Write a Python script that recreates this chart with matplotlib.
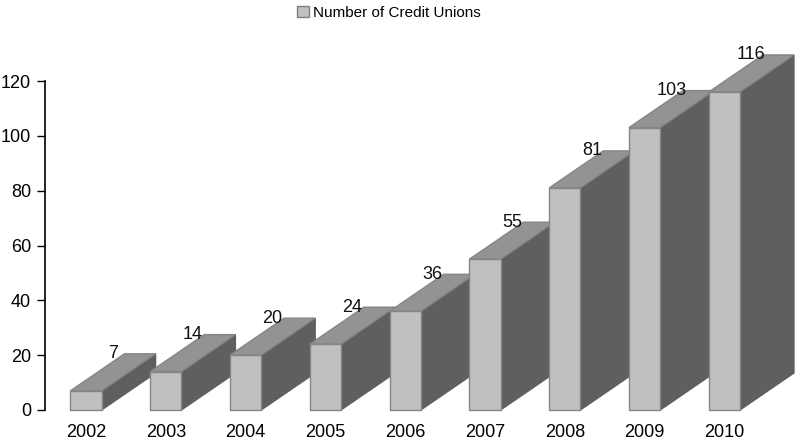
import matplotlib.pyplot as plt
from matplotlib.patches import Polygon, Patch

years = ['2002', '2003', '2004', '2005', '2006', '2007', '2008', '2009', '2010']
credit_unions = [7, 14, 20, 24, 36, 55, 81, 103, 116]

plt.rcParams['font.family'] = ['Liberation Sans', 'DejaVu Sans']

fig = plt.figure(figsize=(7.95, 4.41), dpi=100)
# axes placed in pixel terms: y axis at x=45, zero line at y=410, 120 at y=81
ax = fig.add_axes([45 / 795, 31 / 441, 750 / 795, 329 / 441])

w = 0.39       # bar width (in category units)
dx = 0.677     # depth offset to the right
dy = 13.5      # depth offset upward (data units)
front_c, top_c, side_c, edge_c = '#c0c0c0', '#939393', '#5f5f5f', '#858585'

for i, v in enumerate(credit_unions):
    x0, x1 = i - w / 2, i + w / 2
    front = Polygon([(x0, 0), (x1, 0), (x1, v), (x0, v)], closed=True,
                    facecolor=front_c, edgecolor=edge_c, lw=1, clip_on=False)
    top = Polygon([(x0, v), (x1, v), (x1 + dx, v + dy), (x0 + dx, v + dy)], closed=True,
                  facecolor=top_c, edgecolor=edge_c, lw=1, clip_on=False)
    side = Polygon([(x1, 0), (x1 + dx, dy), (x1 + dx, v + dy), (x1, v)], closed=True,
                   facecolor=side_c, edgecolor=side_c, lw=1, clip_on=False)
    for p in (side, top, front):
        p.set_zorder(2 + i)
        ax.add_patch(p)
    ax.text(i + dx / 2, v + dy, str(v), ha='center', va='center', fontsize=13,
            color='#111111', zorder=20)

ax.set_xlim(-0.514, 8.885)
ax.set_ylim(0, 120)
ax.set_yticks(range(0, 121, 20))
ax.set_xticks(range(len(years)))
ax.set_xticklabels(years)
ax.tick_params(axis='y', direction='out', length=6, width=1, labelsize=13, pad=4)
ax.tick_params(axis='x', length=0, labelsize=13, pad=10)
for s in ('top', 'right', 'bottom'):
    ax.spines[s].set_visible(False)
ax.spines['left'].set_linewidth(1.2)

handle = Patch(facecolor=front_c, edgecolor='#808080', label='Number of Credit Unions')
fig.legend(handles=[handle], loc='center', bbox_to_anchor=(389 / 795, 1 - 13 / 441),
           frameon=False, fontsize=11, handlelength=0.75, handleheight=0.75,
           handletextpad=0.3, borderaxespad=0)

fig.savefig('out.png', dpi=100)
